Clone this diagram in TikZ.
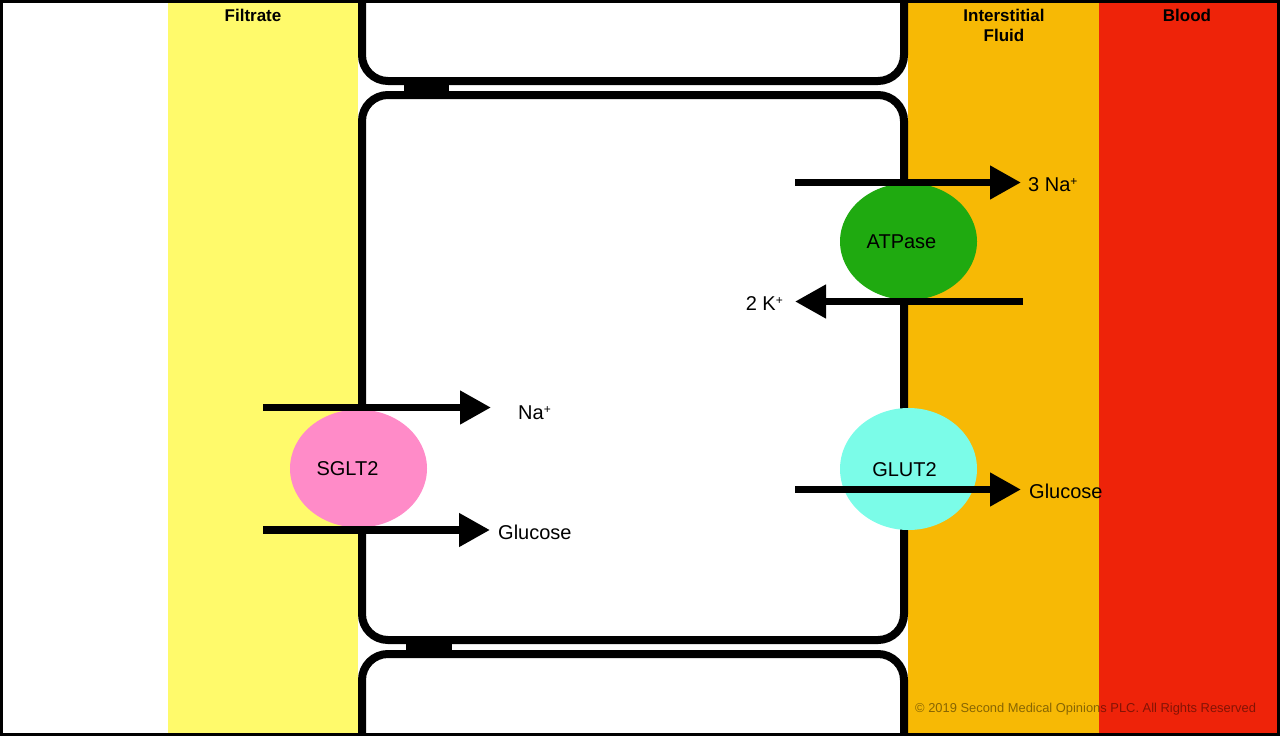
\documentclass[tikz,border=0pt]{standalone}
\usepackage{fontspec}
\setmainfont{Liberation Sans}
\usepackage{xcolor}
\usepackage{tikz}
\usetikzlibrary{shapes.geometric, arrows.meta, positioning}
\definecolor{filtrate}{HTML}{FFFA6B}
\definecolor{interstit}{HTML}{F7B905}
\definecolor{blood}{HTML}{EE2309}
\definecolor{atpgreen}{HTML}{1FAA10}
\definecolor{sgltpink}{HTML}{FF8BC8}
\definecolor{glutaqua}{HTML}{7BFCE8}
\newcommand{\ionplus}{\raisebox{0.28em}{\fontsize{12}{12}\selectfont +}}
\tikzstyle{arrow} = [line width=7.5pt, -{Triangle[length=31pt,width=32pt]}]
\tikzstyle{membrane} = [line width=8pt, rounded corners=26pt]
\tikzstyle{pump} = [ellipse, minimum width=137pt, minimum height=117pt, inner sep=0pt]
\tikzstyle{ion} = [inner sep=0pt, font=\fontsize{20}{24}\selectfont]
\tikzstyle{zone} = [inner sep=0pt, font=\fontsize{17}{20}\selectfont\bfseries, align=center, anchor=north]
\tikzset{every node/.style={align=center}}

\begin{document}
\begin{tikzpicture}[x=1pt, y=-1pt]
    \useasboundingbox (0,0) rectangle (1280,736);
    \clip (0,0) rectangle (1280,736);

    \fill[filtrate] (168,0) rectangle (358,736);
    \fill[interstit] (908,0) rectangle (1099,736);
    \fill[blood] (1099,0) rectangle (1280,736);

    \draw[membrane] (362,-40) rectangle (904,81);
    \draw[membrane] (362,95) rectangle (904,640);
    \draw[membrane] (362,654) rectangle (904,780);
    \fill (404,84) rectangle (449,92);
    \fill (406,643) rectangle (452,651);

    \node (atpase) [pump, fill=atpgreen] at (908.5,241.5) {};
    \node (sglt) [pump, fill=sgltpink, minimum height=118pt] at (358.5,468.5) {};
    \node (glut) [pump, fill=glutaqua, minimum height=122pt] at (908.5,469) {};
    \node (atplbl) [ion] at ([xshift=-7pt]atpase.center) {ATPase};
    \node (sgltlbl) [ion] at ([xshift=-11pt]sglt.center) {SGLT2};
    \node (glutlbl) [ion] at ([xshift=-4pt,yshift=-1pt]glut.center) {GLUT2};

    \coordinate (na3in) at (795,182.5);
    \coordinate (na3tip) at (1021,182.5);
    \coordinate (k2in) at (1023,301.5);
    \coordinate (k2tip) at (795,301.5);
    \coordinate (nain) at (263,407.5);
    \coordinate (natip) at (491,407.5);
    \coordinate (sgluin) at (263,530);
    \coordinate (sglutip) at (490,530);
    \coordinate (ggluin) at (795,489.5);
    \coordinate (gglutip) at (1021,489.5);

    \draw [arrow] (na3in) -- (na3tip);
    \draw [arrow] (k2in) -- (k2tip);
    \draw [arrow] (nain) -- (natip);
    \draw [arrow] (sgluin) -- (sglutip);
    \draw [arrow] (ggluin) -- (gglutip);

    \node (na3lbl) [ion, right=7pt of na3tip, yshift=-2pt] {3 Na\ionplus};
    \node (k2lbl) [ion, left=12pt of k2tip, yshift=-2pt] {2 K\ionplus};
    \node (nalbl) [ion, right=27pt of natip, yshift=-5pt] {Na\ionplus};
    \node (sglulbl) [ion, right=8pt of sglutip, yshift=-2pt] {Glucose};
    \node (ggluLbl) [ion, right=8pt of gglutip, yshift=-2pt] {Glucose};

    \node (filt) [zone] at (253,9) {Filtrate};
    \node (isf) [zone] at (1004,9) {Interstitial\\Fluid};
    \node (bld) [zone] at (1187,9) {Blood};
    \node (copy) [inner sep=0pt, anchor=west, text=black, text opacity=0.45,
        font=\fontsize{12.9}{15}\selectfont] at (915,709) {© 2019 Second Medical Opinions PLC. All Rights Reserved};

    \draw[line width=3pt] (1.5,1.5) rectangle (1278.5,734.5);
\end{tikzpicture}
\end{document}
